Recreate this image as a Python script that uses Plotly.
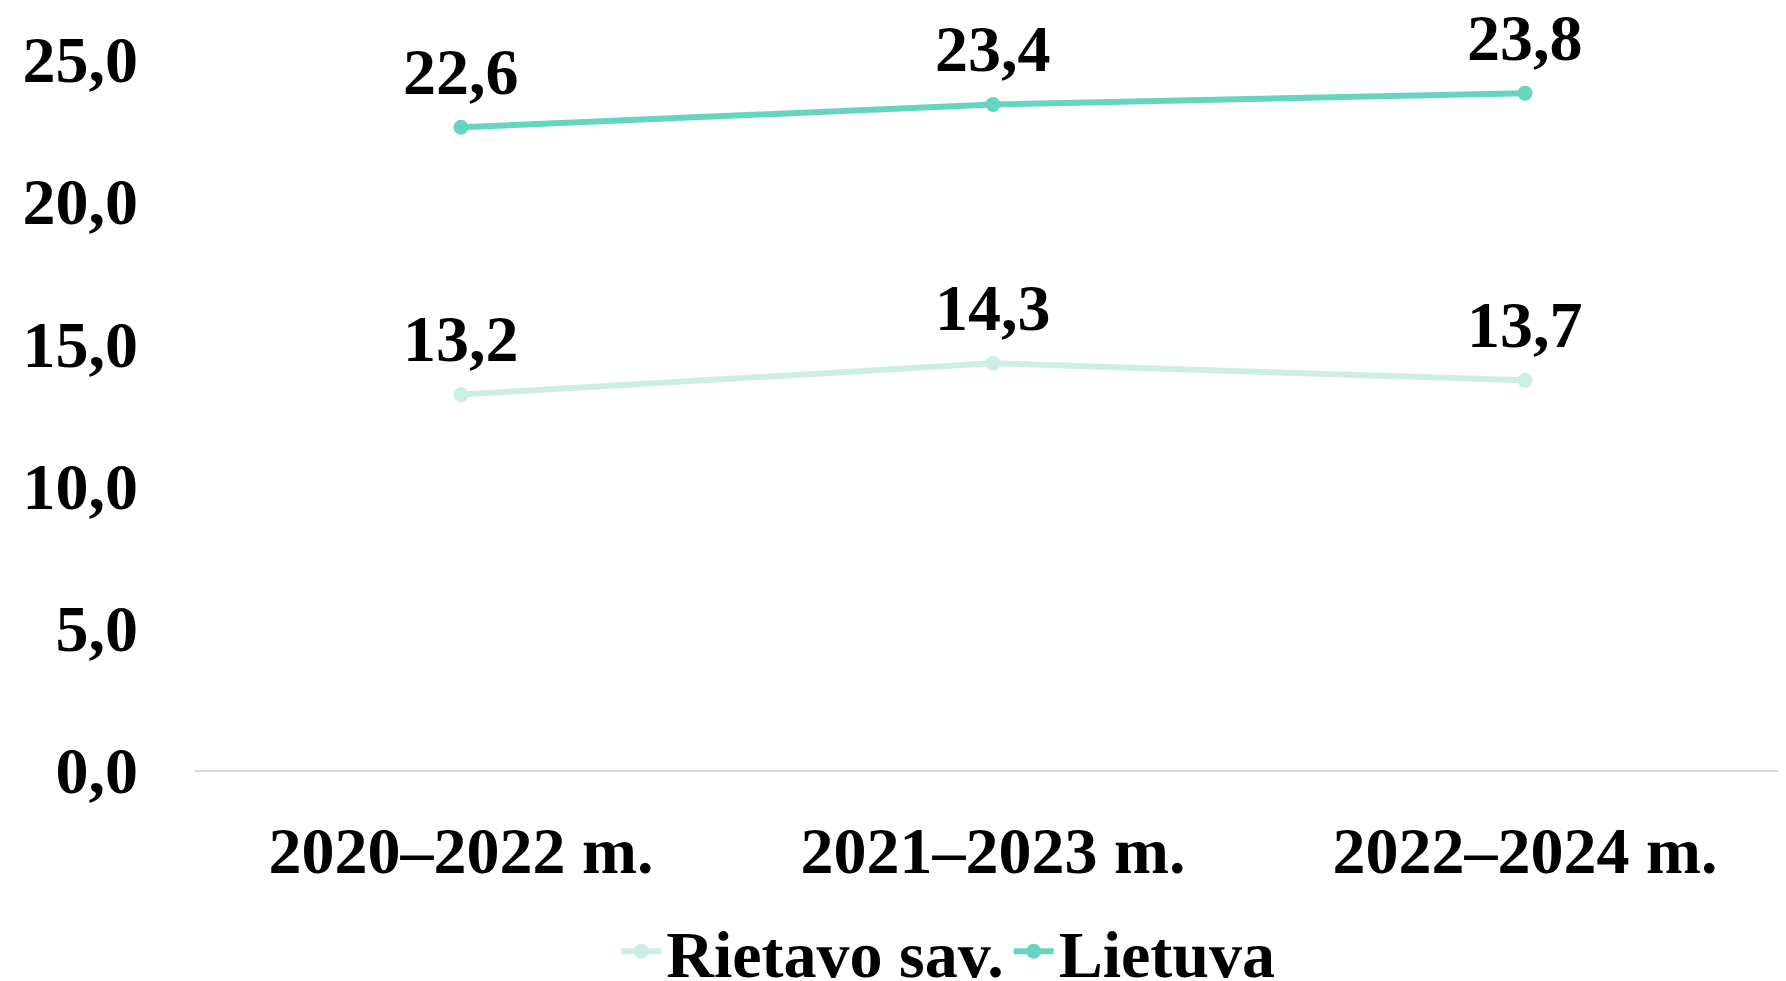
import plotly.graph_objects as go

categories = ["2020–2022 m.", "2021–2023 m.", "2022–2024 m."]
rietavo = [13.2, 14.3, 13.7]
lietuva = [22.6, 23.4, 23.8]
series_names = ["Rietavo sav.", "Lietuva"]
y_ticks = [0, 5, 10, 15, 20, 25]

FONT = "Liberation Serif"
FS = 66
C_RIET = "#CDEEE6"
C_LT = "#66D4BE"

fig = go.Figure()
for name, vals, col in [(series_names[0], rietavo, C_RIET), (series_names[1], lietuva, C_LT)]:
    fig.add_trace(go.Scatter(
        x=categories, y=vals, name=name, mode="lines+markers",
        line=dict(color=col, width=6),
        marker=dict(color=col, size=15),
        cliponaxis=False,
    ))
    for c, v in zip(categories, vals):
        fig.add_annotation(x=c, y=v, text=f"{v:.1f}".replace(".", ","),
                           showarrow=False, yanchor="middle", yshift=56,
                           font=dict(family=FONT, size=FS, color="black", weight="bold"))

fig.update_layout(
    width=1786, height=981,
    margin=dict(l=187, r=3, t=51, b=219, autoexpand=False),
    paper_bgcolor="white", plot_bgcolor="white",
    separators=",.",
    font=dict(family=FONT, size=FS, color="black", weight="bold"),
    showlegend=True,
    legend=dict(orientation="h", x=0.472, xanchor="center", y=-0.255, yanchor="middle",
                font=dict(family=FONT, size=FS, color="black", weight="bold"),
                itemwidth=40, tracegroupgap=0, traceorder="normal"),
)
fig.update_xaxes(range=[-0.5, 2.5], automargin=False, showgrid=False, showline=True,
                 linecolor="#D9D9D9", linewidth=2,
                 ticks="", ticklabelstandoff=22,
                 tickfont=dict(family=FONT, size=FS, weight="bold"))
fig.update_yaxes(range=[0, 25], automargin=False, showgrid=False, zeroline=False, showline=False,
                 tickvals=y_ticks, tickformat=".1f", ticklabelstandoff=56,
                 tickfont=dict(family=FONT, size=FS, weight="bold"))

fig.write_html("out.html")
